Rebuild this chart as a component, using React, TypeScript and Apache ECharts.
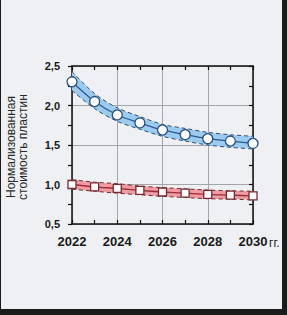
import React, { useEffect, useRef } from "react";
import * as echarts from "echarts";

const years = ["2022", "2023", "2024", "2025", "2026", "2027", "2028", "2029", "2030"];
const blueMid = [2.3, 2.05, 1.88, 1.78, 1.69, 1.63, 1.58, 1.55, 1.52];
const blueUpper = [2.43, 2.15, 1.97, 1.86, 1.76, 1.71, 1.66, 1.63, 1.61];
const blueLower = [2.19, 1.96, 1.8, 1.7, 1.61, 1.55, 1.5, 1.47, 1.45];
const redMid = [1.0, 0.97, 0.95, 0.925, 0.905, 0.89, 0.875, 0.865, 0.855];
const redUpper = [1.06, 1.03, 1.01, 0.98, 0.96, 0.945, 0.93, 0.92, 0.915];
const redLower = [0.94, 0.915, 0.89, 0.87, 0.85, 0.835, 0.82, 0.815, 0.805];
const yTitle = ["Нормализованная", "стоимость пластин"];
const xUnit = "гг.";

export default function App() {
  const ref = useRef<HTMLDivElement>(null);
  useEffect(() => {
    if (!ref.current) return;
    const chart = echarts.init(ref.current, undefined, { renderer: "svg" });
    const font = "Arial, 'Liberation Sans', sans-serif";
    const smooth = 0.3;
    const band = (name: string, lower: number[], upper: number[], fill: string, stack: string) => [
      {
        name: name + "-low",
        type: "line",
        data: lower,
        stack,
        smooth,
        symbol: "none",
        lineStyle: { width: 0, opacity: 0 },
        z: 1,
      },
      {
        name: name + "-band",
        type: "line",
        data: upper.map((u, i) => +(u - lower[i]).toFixed(4)),
        stack,
        smooth,
        symbol: "none",
        lineStyle: { width: 0, opacity: 0 },
        areaStyle: { color: fill, opacity: 1 },
        z: 1,
      },
    ];
    const dashed = (data: number[], color: string) => ({
      type: "line",
      data,
      smooth,
      symbol: "none",
      lineStyle: { color, width: 1, type: [4, 3] },
      z: 3,
    });
    const yAxisBase = {
      type: "value",
      min: 0.5,
      max: 2.5,
      interval: 0.5,
      axisLine: { show: true, lineStyle: { color: "#111", width: 1.5 } },
      minorTick: { show: true, splitNumber: 2, length: 4, lineStyle: { color: "#111", width: 1.2 } },
    };
    chart.setOption({
      animation: false,
      backgroundColor: "#eef0f4",
      grid: { left: 71, right: 29, top: 66, bottom: 85, containLabel: false },
      xAxis: [
        {
          type: "category",
          data: years,
          boundaryGap: false,
          position: "bottom",
          axisLine: { lineStyle: { color: "#111", width: 1.5 } },
          axisTick: { show: true, inside: true, interval: 0, length: 4, lineStyle: { color: "#111", width: 1.2 } },
          axisLabel: {
            interval: 1,
            fontFamily: font,
            fontWeight: "bold",
            fontSize: 13,
            color: "#1a1a1a",
            margin: 11,
          },
          splitLine: { show: true, interval: 1, lineStyle: { color: "#a3a5a8", width: 1 } },
        },
        {
          type: "category",
          data: years,
          boundaryGap: false,
          position: "top",
          axisLine: { lineStyle: { color: "#111", width: 1.5 } },
          axisTick: { show: true, inside: true, interval: 0, length: 4, lineStyle: { color: "#111", width: 1.2 } },
          axisLabel: { show: false },
          splitLine: { show: false },
        },
      ],
      yAxis: [
        {
          ...yAxisBase,
          position: "left",
          axisTick: { show: true, inside: false, length: 4, lineStyle: { color: "#111", width: 1.2 } },
          axisLabel: {
            fontFamily: font,
            fontWeight: "bold",
            fontSize: 11,
            color: "#1a1a1a",
            margin: 12,
            formatter: (v: number) => v.toFixed(1).replace(".", ","),
          },
          splitLine: { show: true, lineStyle: { color: "#a3a5a8", width: 1 } },
        },
        {
          ...yAxisBase,
          position: "right",
          axisTick: { show: true, inside: true, length: 4, lineStyle: { color: "#111", width: 1.2 } },
          axisLabel: { show: false },
          splitLine: { show: false },
        },
      ],
      graphic: [
        {
          type: "text",
          x: 10,
          y: 147,
          rotation: Math.PI / 2,
          style: {
            text: yTitle[0],
            fontFamily: font,
            fontSize: 12,
            fill: "#2a2a2a",
            textAlign: "center",
            textVerticalAlign: "middle",
          },
        },
        {
          type: "text",
          x: 22,
          y: 147,
          rotation: Math.PI / 2,
          style: {
            text: yTitle[1],
            fontFamily: font,
            fontSize: 12,
            fill: "#2a2a2a",
            textAlign: "center",
            textVerticalAlign: "middle",
          },
        },
        {
          type: "text",
          x: 268,
          y: 243,
          style: {
            text: xUnit,
            fontFamily: font,
            fontSize: 12,
            fill: "#1a1a1a",
            textAlign: "left",
            textVerticalAlign: "middle",
          },
        },
      ],
      series: [
        ...band("blue", blueLower, blueUpper, "#9bcbef", "b"),
        ...band("red", redLower, redUpper, "#ee9ca0", "r"),
        dashed(blueUpper, "#34506e"),
        dashed(blueLower, "#34506e"),
        dashed(redUpper, "#6e2d33"),
        dashed(redLower, "#6e2d33"),
        {
          type: "line",
          data: blueMid,
          smooth,
          symbol: "circle",
          symbolSize: 10,
          lineStyle: { color: "#2b5a92", width: 1.3 },
          itemStyle: { color: "#ffffff", borderColor: "#2b4f7c", borderWidth: 1.3 },
          z: 4,
        },
        {
          type: "line",
          data: redMid,
          smooth,
          symbol: "rect",
          symbolSize: 8,
          lineStyle: { color: "#9c2c3a", width: 1.3 },
          itemStyle: { color: "#ffffff", borderColor: "#7a2a33", borderWidth: 1.3 },
          z: 4,
        },
      ],
    });
    return () => chart.dispose();
  }, []);
  return (
    <div style={{ position: "fixed", left: 0, top: 0, width: 287, height: 315, background: "#1b1b1b" }}>
      <div ref={ref} style={{ position: "absolute", left: 1, top: 0, width: 281, height: 309 }} />
    </div>
  );
}
